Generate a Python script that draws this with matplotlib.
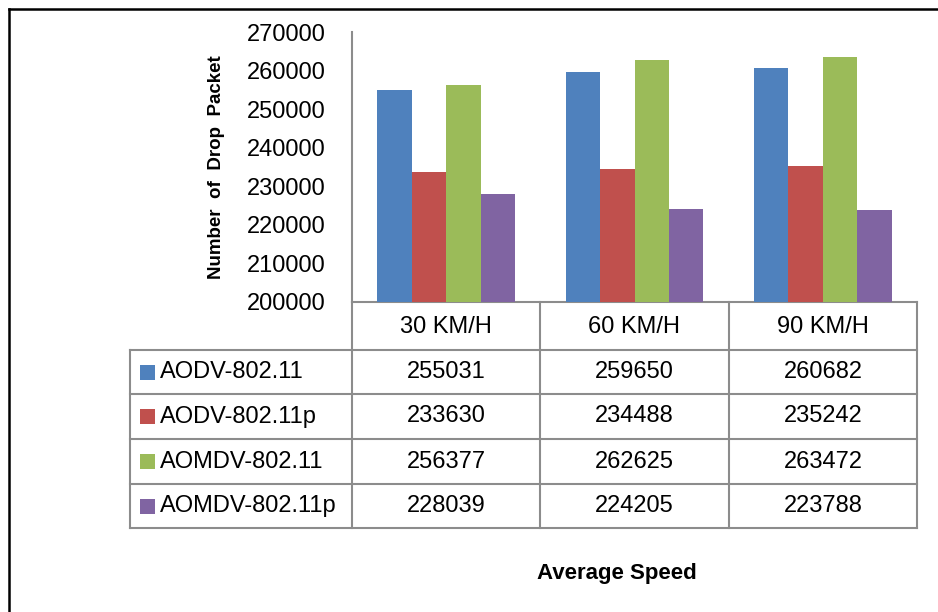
import numpy as np
import matplotlib
matplotlib.use("Agg")
import matplotlib.pyplot as plt
from matplotlib.patches import Rectangle

speeds = ['30 KM/H', '60 KM/H', '90 KM/H']
protocols = ['AODV-802.11', 'AODV-802.11p', 'AOMDV-802.11', 'AOMDV-802.11p']
aodv = [255031, 259650, 260682]
aodv_p = [233630, 234488, 235242]
aomdv = [256377, 262625, 263472]
aomdv_p = [228039, 224205, 223788]
yticks = [200000, 210000, 220000, 230000, 240000, 250000, 260000, 270000]

series = [aodv, aodv_p, aomdv, aomdv_p]
colors = ['#4F81BD', '#C0504D', '#9BBB59', '#8064A2']
grid_col = '#8C8C8C'
font = ['Liberation Sans', 'DejaVu Sans']
narrow = ['Liberation Sans Narrow', 'Liberation Sans', 'DejaVu Sans']

W, H = 938, 612
fig = plt.figure(figsize=(W / 100, H / 100), dpi=100)

# overlay in pixel coords for the frame and data table
ov = fig.add_axes([0, 0, 1, 1])
ov.set_xlim(0, W)
ov.set_ylim(H, 0)
ov.axis('off')

# bar area
x0, x1, ytop, ybot = 352, 917, 32, 302
ax = fig.add_axes([x0 / W, (H - ybot) / H, (x1 - x0) / W, (ybot - ytop) / H])
w = 0.183
x = np.arange(len(speeds))
for j, vals in enumerate(series):
    ax.bar(x + (j - 1.5) * w, np.array(vals) - 200000, w, bottom=200000,
           color=colors[j], label=protocols[j])
ax.set_xlim(-0.5, 2.5)
ax.set_ylim(200000, 270000)
ax.set_yticks(yticks)
ax.set_yticklabels([str(t) for t in yticks], family=font, fontsize=17)
ax.tick_params(axis='y', length=0, pad=19)
ax.set_xticks([])
for s in ['top', 'right', 'bottom']:
    ax.spines[s].set_visible(False)
ax.spines['left'].set_color(grid_col)
ax.spines['left'].set_linewidth(1.5)
ax.patch.set_alpha(0)
ax.set_ylabel('Number  of  Drop  Packet', family=narrow, fontweight='bold',
              fontsize=13.5, labelpad=16)

# outer frame (left and top only)
ov.plot([9, 9], [H, 9], color='black', lw=1.8, solid_capstyle='projecting')
ov.plot([9, W], [9, 9], color='black', lw=1.8, solid_capstyle='projecting')

# data table
col_edges = [130, 352, 540, 729, 917]
row_edges = [302, 350, 394, 439, 484, 528]
kw = dict(color=grid_col, lw=1.5, solid_capstyle='projecting')
ov.plot([x0, x1], [row_edges[0], row_edges[0]], **kw)
for yy in row_edges[1:]:
    ov.plot([col_edges[0], x1], [yy, yy], **kw)
for k, xx in enumerate(col_edges):
    top = row_edges[1] if k == 0 else row_edges[0]
    ov.plot([xx, xx], [top, row_edges[-1]], **kw)

for c, lab in enumerate(speeds):
    cx = (col_edges[c + 1] + col_edges[c + 2]) / 2
    ov.text(cx, (row_edges[0] + row_edges[1]) / 2 + 1, lab, ha='center',
            va='center', family=font, fontsize=17)
for r, name in enumerate(protocols):
    cy = (row_edges[r + 1] + row_edges[r + 2]) / 2
    ov.add_patch(Rectangle((140, cy - 7.5), 15, 15, color=colors[r], lw=0))
    ov.text(160, cy, name, ha='left', va='center', family=font, fontsize=17)
    for c in range(len(speeds)):
        cx = (col_edges[c + 1] + col_edges[c + 2]) / 2
        ov.text(cx, cy, str(series[r][c]), ha='center', va='center',
                family=font, fontsize=17)

ov.text(617, 573, 'Average Speed', ha='center', va='center', family=narrow,
        fontweight='bold', fontsize=16)

fig.savefig('out.png', dpi=100)
